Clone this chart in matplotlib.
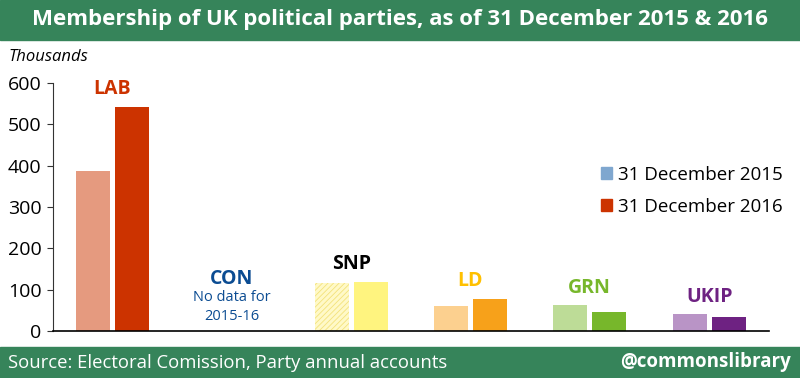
import matplotlib
matplotlib.use('Agg')
import matplotlib.pyplot as plt
import numpy as np
from matplotlib.patches import Rectangle

plt.rcParams['font.family'] = ['Open Sans', 'DejaVu Sans']
plt.rcParams['hatch.linewidth'] = 0.6

parties = ['LAB', 'CON', 'SNP', 'LD', 'GRN', 'UKIP']
members_2015 = [388, np.nan, 115, 61, 63, 40]
members_2016 = [543, np.nan, 119, 78, 45, 35]
colors_2015 = ['#E59A7F', '#FFFFFF', '#FFF9C8', '#FCD08F', '#BDDC97', '#B994C6']
colors_2016 = ['#CC3300', '#FFFFFF', '#FFF47F', '#F7A11A', '#77B72B', '#6E2282']
label_colors = ['#CC3300', '#0B4C92', '#000000', '#FFC000', '#77B72B', '#6E2282']
legend_labels = ['31 December 2015', '31 December 2016']
legend_colors = ['#7FA7CF', '#CC3300']

green = '#36845A'

fig = plt.figure(figsize=(8, 3.78), dpi=100)
ax = fig.add_axes([0.066, 0.1243, 0.895, 0.6561])

x = np.arange(len(parties))
w = 0.285
off = 0.163
b15 = ax.bar(x - off, members_2015, w, color=colors_2015, linewidth=0)
b16 = ax.bar(x + off, members_2016, w, color=colors_2016, linewidth=0)
# SNP 2015 shown hatched
b15[2].set_hatch('//////')
b15[2].set_edgecolor('#F3E27A')
b15[2].set_linewidth(0)

for i, p in enumerate(parties):
    if np.isnan(members_2015[i]):
        ax.text(x[i], 126, p, ha='center', va='center', fontsize=14,
                fontweight='bold', color=label_colors[i])
        ax.text(x[i], 82, 'No data for', ha='center', va='center', fontsize=10.5,
                color=label_colors[i])
        ax.text(x[i], 36, '2015-16', ha='center', va='center', fontsize=10.5,
                color=label_colors[i])
    else:
        top = max(members_2015[i], members_2016[i])
        ax.text(x[i], top + 42, p, ha='center', va='center', fontsize=14,
                fontweight='bold', color=label_colors[i])

ax.set_xlim(-0.5, 5.5)
ax.set_ylim(0, 600)
ax.set_yticks(np.arange(0, 601, 100))
ax.set_xticks([])
ax.tick_params(axis='y', labelsize=14, length=4, color='#333333', pad=4)
for s in ['top', 'right']:
    ax.spines[s].set_visible(False)
ax.spines['left'].set_color('#333333')
ax.spines['bottom'].set_color('#000000')
ax.spines['bottom'].set_linewidth(1.2)

handles = [Rectangle((0, 0), 1, 1, color=c) for c in legend_colors]
ax.legend(handles, legend_labels, loc='upper left', bbox_to_anchor=(0.752, 0.705),
          frameon=False, fontsize=13.5, handlelength=0.6, handleheight=0.6,
          handletextpad=0.35, labelspacing=0.75, borderpad=0)

# header and footer bands
fig.patches.append(Rectangle((0, 1 - 40 / 378), 1, 40 / 378, transform=fig.transFigure,
                             color=green, zorder=-1))
fig.patches.append(Rectangle((0, 0), 1, 31 / 378, transform=fig.transFigure,
                             color=green, zorder=-1))
fig.text(0.5, 1 - 20 / 378, 'Membership of UK political parties, as of 31 December 2015 & 2016',
         ha='center', va='center', fontsize=16, fontweight='bold', color='white')
fig.text(0.01, 15.5 / 378, 'Source: Electoral Comission, Party annual accounts',
         ha='left', va='center', fontsize=13.3, color='white')
fig.text(0.988, 15.5 / 378, '@commonslibrary', ha='right', va='center',
         fontsize=13.5, fontweight='bold', color='white')
fig.text(0.01, 1 - 57 / 378, 'Thousands', ha='left', va='center', fontsize=12,
         style='italic', color='#000000')

fig.savefig('out.png', dpi=100)
